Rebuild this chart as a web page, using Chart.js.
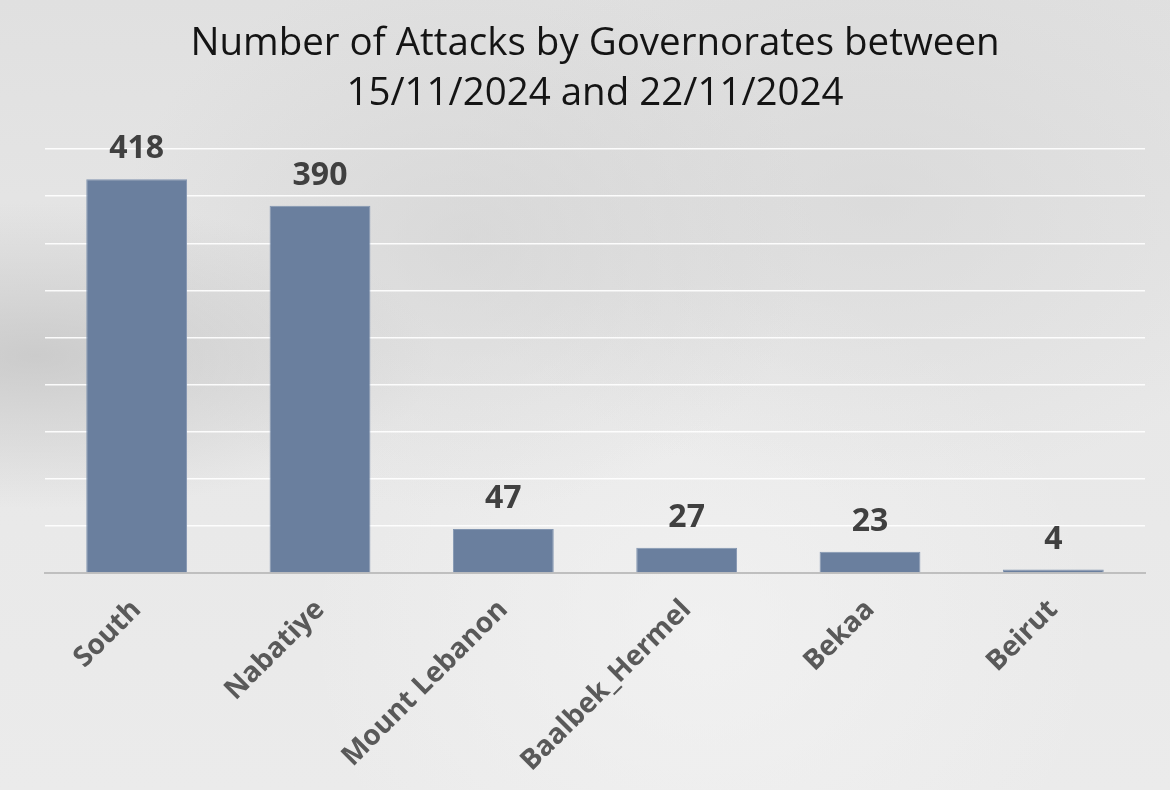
<!DOCTYPE html>
<html>
<head>
<meta charset="utf-8">
<script src="https://cdn.jsdelivr.net/npm/chart.js@4/dist/chart.umd.min.js"></script>
<style>
  html, body { margin: 0; padding: 0; }
  body {
    width: 1170px; height: 790px; overflow: hidden;
    background:
      radial-gradient(ellipse at 3% 45%, rgba(185,185,185,0.6), rgba(185,185,185,0) 25%),
      radial-gradient(ellipse at 40% 30%, rgba(205,205,205,0.5), rgba(205,205,205,0) 35%),
      radial-gradient(ellipse at 75% 25%, rgba(210,210,210,0.5), rgba(210,210,210,0) 35%),
      radial-gradient(ellipse at 60% 80%, rgba(245,245,245,0.6), rgba(245,245,245,0) 40%),
      linear-gradient(180deg, #e0e0e0 0%, #e8e8e8 50%, #ebebeb 100%);
  }
  #wrap { position: relative; width: 1170px; height: 790px; }
</style>
</head>
<body>
<div id="wrap"><canvas id="chart"></canvas></div>
<script>
const categories = ['South', 'Nabatiye', 'Mount Lebanon', 'Baalbek_Hermel', 'Bekaa', 'Beirut'];
const attacks = [418, 390, 47, 27, 23, 4];
const titleLines = ['Number of Attacks by Governorates between', '15/11/2024 and 22/11/2024'];

const FONT = '"Open Sans", Lato, sans-serif';

// draws the value above each bar
const barValueLabels = {
    id: 'barValueLabels',
    afterDatasetsDraw(chart) {
        const ctx = chart.ctx;
        const meta = chart.getDatasetMeta(0);
        ctx.save();
        ctx.font = 'bold 32px ' + FONT;
        ctx.fillStyle = '#404040';
        ctx.textAlign = 'center';
        ctx.textBaseline = 'alphabetic';
        meta.data.forEach((bar, i) => {
            ctx.fillText(String(attacks[i]), bar.x, bar.y - 21);
        });
        ctx.restore();
    }
};

new Chart(document.getElementById('chart'), {
    type: 'bar',
    data: {
        labels: categories,
        datasets: [{
            data: attacks,
            backgroundColor: '#6a7f9e',
            borderColor: '#8396b1',
            borderWidth: 1,
            barPercentage: 0.55,
            categoryPercentage: 1.0
        }]
    },
    options: {
        responsive: true,
        maintainAspectRatio: false,
        animation: false,
        layout: { padding: { left: 45, right: 25, top: 8, bottom: 0 } },
        plugins: {
            legend: { display: false },
            tooltip: { enabled: false },
            title: {
                display: true,
                text: titleLines,
                color: '#141414',
                font: { family: FONT, size: 38.5, weight: 'normal', lineHeight: 1.3 },
                padding: { top: 11, bottom: 30 }
            }
        },
        scales: {
            x: {
                grid: { display: false },
                border: { display: true, color: '#bfbfbf', width: 2 },
                ticks: {
                    color: '#595959',
                    font: { family: FONT, size: 28, weight: 'bold' },
                    minRotation: 45,
                    maxRotation: 45,
                    padding: 12
                }
            },
            y: {
                min: 0,
                max: 450,
                ticks: { display: false, stepSize: 50 },
                border: { display: false },
                grid: {
                    color: c => c.tick.value === 0 ? '#bfbfbf' : 'rgba(255,255,255,0.9)',
                    lineWidth: c => c.tick.value === 0 ? 2 : 1.5,
                    drawTicks: false
                }
            }
        }
    },
    plugins: [barValueLabels]
});
</script>
</body>
</html>
